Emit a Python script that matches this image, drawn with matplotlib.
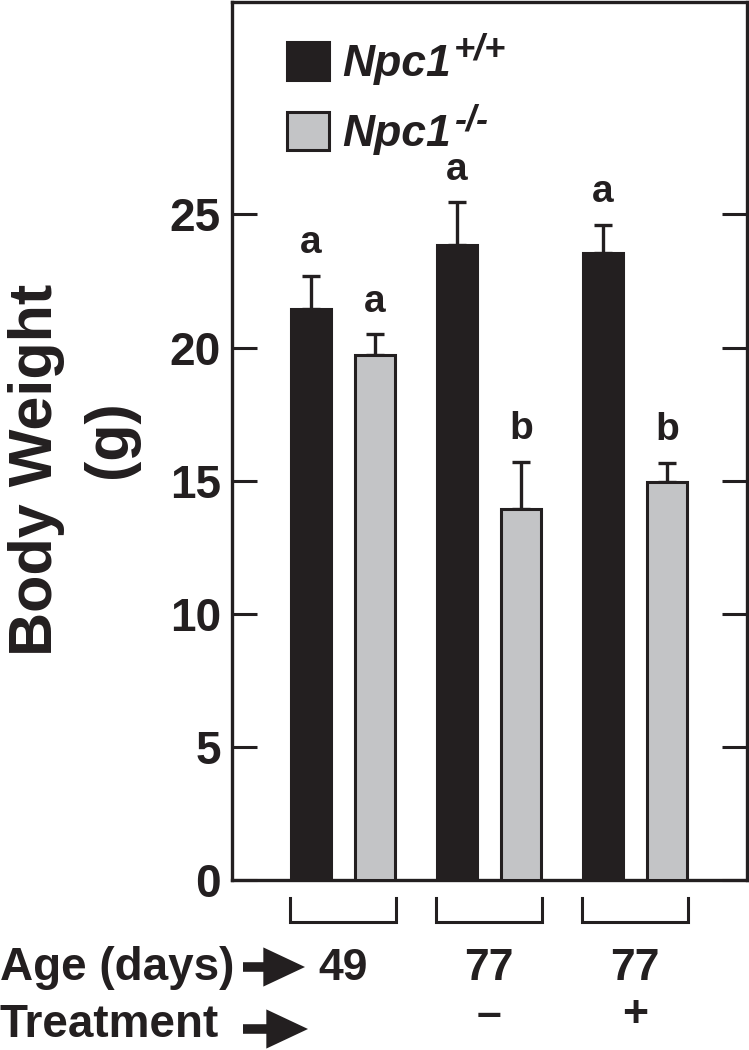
import numpy as np
import matplotlib
matplotlib.use("Agg")
import matplotlib.pyplot as plt

plt.rcParams['font.family'] = ['Liberation Sans', 'DejaVu Sans']
plt.rcParams['font.weight'] = 'bold'

# data
ages = ['49', '77', '77']
treatment = ['', '\u2013', '+']
wt_mean = [21.45, 23.85, 23.55]
wt_err = [1.25, 1.60, 1.07]
ko_mean = [19.73, 13.95, 14.94]
ko_err = [0.77, 1.75, 0.72]
wt_letters = ['a', 'a', 'a']
ko_letters = ['a', 'b', 'b']
legend_labels = ['Npc1', 'Npc1']
legend_sup = ['+/+', '-/-']

black = '#231f20'
gray = '#c3c4c6'

fig = plt.figure(figsize=(7.49, 10.5), dpi=100)
ax = fig.add_axes([232 / 749, 1 - 880 / 1050, 515 / 749, 878.5 / 1050])

g = np.arange(len(ages))
off = 0.219
w = 0.275

b1 = ax.bar(g - off, wt_mean, w, color=black, edgecolor=black, linewidth=2.2, zorder=3)
b2 = ax.bar(g + off, ko_mean, w, color=gray, edgecolor=black, linewidth=2.2, zorder=3)
ax.errorbar(g - off, wt_mean, yerr=[np.zeros(3), wt_err], fmt='none', ecolor=black,
            elinewidth=2.4, capsize=6.8, capthick=2.4, zorder=2)
ax.errorbar(g + off, ko_mean, yerr=[np.zeros(3), ko_err], fmt='none', ecolor=black,
            elinewidth=2.4, capsize=6.8, capthick=2.4, zorder=2)

for i in range(len(g)):
    ax.text(g[i] - off, wt_mean[i] + wt_err[i] + 0.85, wt_letters[i], ha='center',
            va='baseline', fontsize=28, fontweight='bold', color=black)
    ax.text(g[i] + off, ko_mean[i] + ko_err[i] + 0.85, ko_letters[i], ha='center',
            va='baseline', fontsize=28, fontweight='bold', color=black)
    # group bracket under the axis
    e = off + w / 2 + 0.006
    ax.plot([g[i] - e, g[i] - e, g[i] + e, g[i] + e], [-0.68, -1.58, -1.58, -0.68],
            color=black, lw=2.2, clip_on=False, solid_joinstyle='miter')

ax.set_xlim(-0.760, 2.767)
ax.set_ylim(0, 33)
ax.set_yticks([0, 5, 10, 15, 20, 25])
ax.tick_params(axis='y', direction='in', length=18, width=2.2, labelsize=33,
               pad=8, right=True, labelright=False, colors=black)
ax.set_xticks(g, [a + '\n' + t for a, t in zip(ages, treatment)])
ax.tick_params(axis='x', length=0, labelsize=32, pad=49, colors=black)
for lab in ax.get_xticklabels():
    lab.set_linespacing(1.2)
for s in ax.spines.values():
    s.set_linewidth(2.4)
    s.set_color(black)

leg = ax.legend([b1, b2], legend_labels, loc='upper left', bbox_to_anchor=(0.107, 0.9543),
                frameon=False, prop=dict(size=32, weight='bold', style='italic'),
                handlelength=0.95, handleheight=0.95, handletextpad=0.3,
                labelspacing=0.6, borderpad=0, borderaxespad=0)
# superscript genotypes, drawn after the legend so its text is already placed
for t, sup in zip(leg.get_texts(), legend_sup):
    t.set_color(black)
    ax.annotate(sup, xy=(1, 1), xycoords=t, xytext=(2, 8), textcoords='offset points',
                ha='left', va='top', fontsize=26, fontweight='bold', fontstyle='italic',
                color=black, zorder=10)

fig.text(37 / 749, 1 - 470 / 1050, 'Body Weight', rotation=90, ha='center', va='center',
         fontsize=44, fontweight='bold', color=black)
fig.text(111 / 749, 1 - 439 / 1050, '(g)', rotation=90, ha='center', va='center',
         fontsize=44, fontweight='bold', color=black)

fig.text(0, 1 - 980 / 1050, 'Age (days)', ha='left', va='baseline', fontsize=33,
         fontweight='bold', color=black)
fig.text(0, 1 - 1037 / 1050, 'Treatment', ha='left', va='baseline', fontsize=33,
         fontweight='bold', color=black)

arrow = dict(arrowstyle='simple,head_length=1.0,head_width=0.94,tail_width=0.23',
             fc=black, ec='none', mutation_scale=30, shrinkA=0, shrinkB=0)
ax.annotate('', xy=(305, 1050 - 967), xytext=(243, 1050 - 967),
            xycoords='figure pixels', textcoords='figure pixels', arrowprops=arrow)
ax.annotate('', xy=(308, 1050 - 1029), xytext=(243, 1050 - 1029),
            xycoords='figure pixels', textcoords='figure pixels', arrowprops=arrow)

fig.savefig('out.png', dpi=100)
